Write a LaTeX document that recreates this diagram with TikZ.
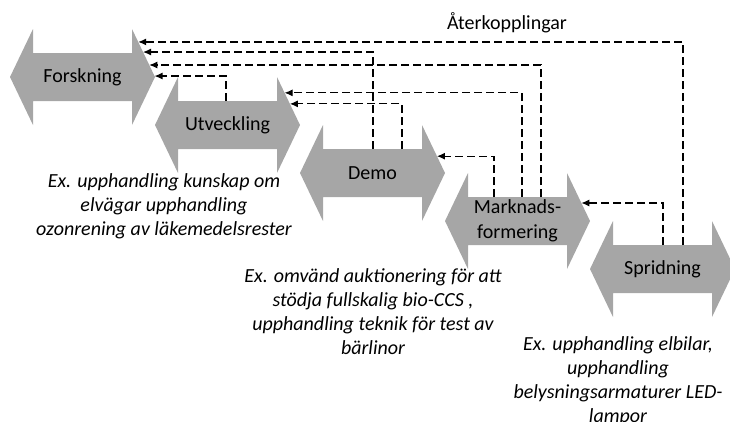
\documentclass[tikz,border=0pt]{standalone}
\usepackage{fontspec}
\setmainfont{Carlito}
\usetikzlibrary{arrows.meta,calc}
\definecolor{stagegray}{HTML}{A6A6A6}
\tikzset{
  stage/.style={fill=stagegray},
  stagelabel/.style={font=\fontsize{20}{24.5}\selectfont, align=center},
  example/.style={font=\fontsize{20}{24}\selectfont\itshape, align=center},
  feedback/.style={line width=1.1pt, dash pattern=on 8pt off 4pt, -{Latex[length=8pt,width=7pt]}},
}
\begin{document}
\begin{tikzpicture}[x=1pt,y=-1pt]
\useasboundingbox (0,0) rectangle (730,421);
\clip (0,0) rectangle (730,421);
\foreach \name/\i/\txt in {F/0/Forskning,U/1/Utveckling,D/2/Demo,M/3/{Marknads-\\formering},S/4/Spridning}{
  \begin{scope}[shift={(145*\i,48*\i)}]
    \fill[stage] (10,77) -- (33,29) -- (33,53) -- (132,53) -- (132,29) -- (155,77)
      -- (132,125) -- (132,101) -- (33,101) -- (33,125) -- cycle;
    \coordinate (\name-top) at (82,53);
    \coordinate (\name-hd) at (132,29);
    \coordinate (\name-tip) at (155,77);
    \node[stagelabel] (\name) at (82.5,77) {\txt};
  \end{scope}
}
\foreach \from/\xv/\to/\t in {S/683/F/0.27,D/373/F/0.48,M/541/F/0.75,U/226/F/0.98,
  M/522/U/0.33,D/402/U/0.56,M/494/D/0.65,S/663/M/0.625}
  \draw[feedback] (\xv,0 |- \from-top) |- ($(\to-hd)!\t!(\to-tip)$);
\node[stagelabel] (title) at (507,23) {Återkopplingar};
\node[example] (exU) at (164,206) {Ex. upphandling kunskap om\\elvägar upphandling\\ozonrening av läkemedelsrester};
\node[example] (exD) at (373,312) {Ex. omvänd auktionering för att\\stödja fullskalig bio-CCS ,\\upphandling teknik för test av\\bärlinor};
\node[example] (exS) at (618,381) {Ex. upphandling elbilar,\\upphandling\\belysningsarmaturer LED-\\lampor};
\end{tikzpicture}
\end{document}
